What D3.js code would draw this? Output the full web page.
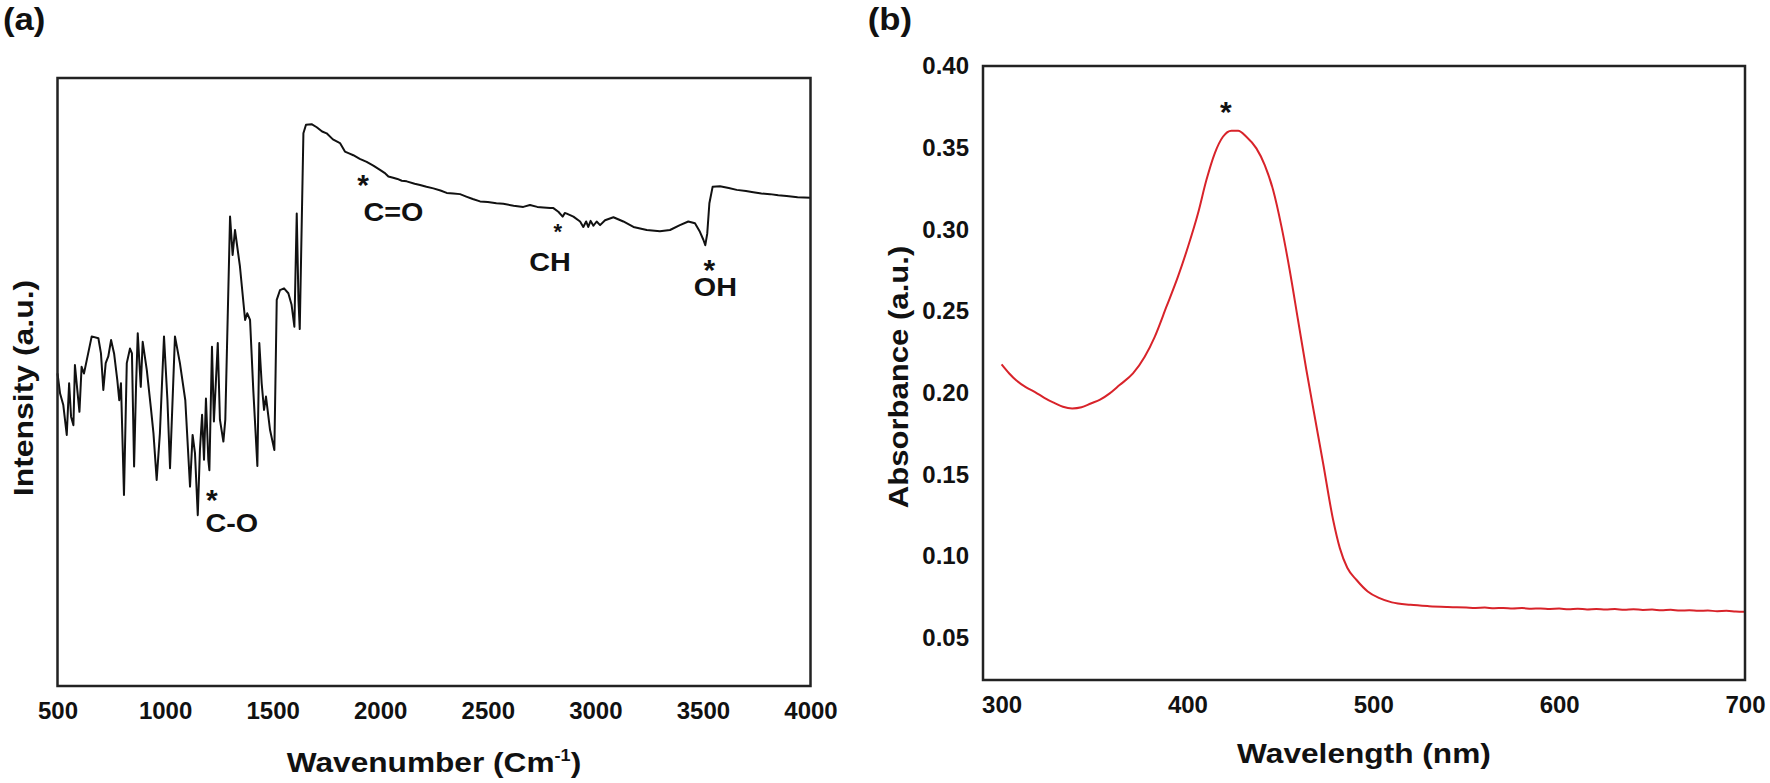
<!DOCTYPE html>
<html>
<head>
<meta charset="utf-8">
<script src="https://cdn.jsdelivr.net/npm/d3@7"></script>
<style>
  body { margin: 0; background: #fff; }
  svg text { font-family: "Liberation Sans", Arial, sans-serif; font-weight: bold; fill: #111; }
</style>
</head>
<body>
<svg id="chart" width="1770" height="783"></svg>
<script>
// (a) FTIR spectrum, intensity in arbitrary units (0-100 = frame)
const ftirWavenumber = [500, 512, 527, 543, 554, 563, 574, 581, 592, 602, 612, 623, 636, 659, 690, 702, 713, 724, 736, 749,
  763, 778, 787, 795, 809, 822, 837, 846, 856, 865, 873, 887, 896, 915, 935, 946, 961, 976, 995, 1011,
  1023, 1046, 1069, 1094, 1116, 1128, 1139, 1152, 1162, 1172, 1181, 1190, 1201, 1206, 1218, 1227, 1245, 1255, 1271, 1280,
  1302, 1314, 1325, 1348, 1372, 1382, 1395, 1410, 1429, 1438, 1449, 1460, 1469, 1488, 1508, 1519, 1534, 1553, 1573, 1588,
  1601, 1612, 1620, 1626, 1643, 1655, 1681, 1705, 1730, 1751, 1780, 1813, 1836, 1855, 1875, 1905, 1937, 1968, 1999, 2020,
  2038, 2060, 2080, 2100, 2123, 2160, 2185, 2215, 2247, 2280, 2309, 2340, 2371, 2400, 2430, 2464, 2500, 2540, 2572, 2620,
  2665, 2696, 2730, 2758, 2790, 2805, 2828, 2848, 2858, 2867, 2898, 2929, 2944, 2957, 2967, 2978, 2991, 3006, 3022, 3045,
  3084, 3130, 3177, 3239, 3300, 3347, 3393, 3432, 3463, 3486, 3502, 3511, 3520, 3530, 3545, 3579, 3620, 3657, 3700, 3734,
  3772, 3812, 3850, 3889, 3940, 4000];
const ftirIntensity = [51.4, 48.1, 46.2, 41.3, 49.8, 44.3, 42.9, 52.8, 48.7, 45.1, 52.5, 51.4, 53.6, 57.5, 57.2, 54.7, 48.7, 53.1, 54.2, 56.9,
  54.7, 50.3, 47.0, 49.8, 31.4, 53.1, 55.5, 54.7, 36.1, 49.2, 58.0, 49.2, 56.6, 52.0, 45.4, 41.6, 33.9, 41.6, 57.5, 47.0,
  35.8, 57.5, 53.1, 47.0, 32.8, 41.3, 38.3, 28.1, 38.8, 44.6, 37.2, 47.3, 37.2, 35.5, 55.8, 43.5, 56.4, 43.8, 40.2, 43.8,
  77.2, 70.9, 75.0, 69.0, 60.2, 61.3, 60.2, 48.7, 36.2, 56.4, 49.8, 45.4, 47.6, 42.1, 38.8, 63.5, 65.1, 65.4, 64.6, 62.7,
  59.1, 77.7, 63.5, 58.7, 90.9, 92.3, 92.4, 91.9, 91.2, 90.9, 89.9, 89.3, 87.9, 87.6, 87.3, 86.7, 86.2, 85.6, 84.9, 84.4,
  83.8, 83.6, 83.4, 83.1, 83.0, 82.6, 82.4, 82.1, 81.85, 81.5, 81.1, 81.0, 80.9, 80.5, 80.1, 79.7, 79.6, 79.4, 79.3, 79.0,
  78.8, 79.1, 78.8, 78.7, 78.6, 78.6, 78.0, 77.2, 77.8, 77.7, 77.2, 76.4, 75.5, 76.4, 75.5, 76.5, 75.7, 76.4, 75.8, 76.6,
  77.1, 76.4, 75.5, 75.0, 74.8, 75.0, 75.8, 76.4, 76.1, 74.7, 73.4, 72.5, 74.4, 79.4, 82.1, 82.2, 81.9, 81.6, 81.4, 81.2,
  81.0, 80.9, 80.7, 80.6, 80.4, 80.3];
const ftirTicks = [500, 1000, 1500, 2000, 2500, 3000, 3500, 4000];

// band markers: asterisk position and label position (wavenumber, intensity)
const bandLabels = ['C-O', 'C=O', 'CH', 'OH'];
const bandStar = [[1217, 31.7], [1921, 83.5], [2825, 75.5], [3530, 69.5]];
const bandText = [[1310, 25.4], [2061, 76.4], [2789, 68.3], [3558, 64.1]];
const bandStarSize = [30, 30, 22, 30];

// (b) UV-vis absorbance
const uvWavelength = [300, 304, 308, 313, 318, 323, 328, 333, 338, 343, 348, 353, 358, 363.5, 370.7, 377, 382.4, 388.7, 394.9, 400.3,
  405.7, 410.2, 414.7, 419.1, 423.7, 427.3, 431.7, 437.1, 441.6, 446.1, 450.6, 455, 459.5, 464, 468.5, 473, 478.4, 482, 486, 491,
  497, 503, 510, 520, 530, 540, 545, 550, 555, 560, 565, 570, 575, 580, 585, 590, 595, 600, 605, 610,
  615, 620, 625, 630, 635, 640, 645, 650, 655, 660, 665, 670, 675, 680, 685, 690, 695, 700];
const uvAbsorbance = [0.2174, 0.212, 0.2075, 0.2035, 0.2005, 0.197, 0.194, 0.1915, 0.1905, 0.1912, 0.1935, 0.1958, 0.1995, 0.2048, 0.2119, 0.2221, 0.2343, 0.2527, 0.2711, 0.2894,
  0.3099, 0.3302, 0.3466, 0.3567, 0.3604, 0.3604, 0.3567, 0.3496, 0.3394, 0.3241, 0.3017, 0.2752, 0.2446, 0.214, 0.1854, 0.1569, 0.1222, 0.105, 0.093, 0.0855,
  0.0785, 0.0745, 0.0718, 0.0703, 0.0695, 0.0690, 0.0688, 0.0686, 0.0684, 0.0686, 0.0682, 0.0684, 0.0681, 0.0683, 0.0679, 0.0681, 0.0678, 0.0680, 0.0676, 0.0679,
  0.0675, 0.0677, 0.0674, 0.0677, 0.0673, 0.0676, 0.0672, 0.0674, 0.0670, 0.0673, 0.0668, 0.0670, 0.0666, 0.0668, 0.0664, 0.0666, 0.0662, 0.0660];
const uvTicksX = [300, 400, 500, 600, 700];
const uvTicksY = [0.05, 0.10, 0.15, 0.20, 0.25, 0.30, 0.35, 0.40];
const uvPeakStar = [420.6, 0.3758];

const svg = d3.select('#chart');

// stretch text horizontally like the source figure
function widen(sel, k) {
  sel.each(function () {
    const w = this.getComputedTextLength();
    d3.select(this).attr('textLength', w * k).attr('lengthAdjust', 'spacingAndGlyphs');
  });
}

function frame(x, y) {
  svg.append('rect')
    .attr('x', x.range()[0]).attr('y', y.range()[1])
    .attr('width', x.range()[1] - x.range()[0])
    .attr('height', y.range()[0] - y.range()[1])
    .attr('fill', 'none').attr('stroke', '#222').attr('stroke-width', 2.5);
}

// ---------- panel (a) ----------
const xA = d3.scaleLinear().domain([500, 4000]).range([57.5, 810.5]);
const yA = d3.scaleLinear().domain([0, 100]).range([686, 78]);

svg.append('g')
  .attr('transform', 'translate(0,' + yA.range()[0] + ')')
  .call(d3.axisBottom(xA).tickValues(ftirTicks).tickSize(0).tickPadding(16).tickFormat(d3.format('d')))
  .call(g => g.select('.domain').remove())
  .selectAll('text').style('font-size', '24px');

svg.append('path')
  .datum(d3.range(ftirWavenumber.length))
  .attr('fill', 'none').attr('stroke', '#111').attr('stroke-width', 2).attr('stroke-linejoin', 'round')
  .attr('d', d3.line().x(i => xA(ftirWavenumber[i])).y(i => yA(ftirIntensity[i])));

frame(xA, yA);

bandLabels.forEach((lab, i) => {
  const s = bandStarSize[i];
  svg.append('text')
    .attr('x', xA(bandStar[i][0])).attr('y', yA(bandStar[i][1]) + 0.55 * s)
    .attr('text-anchor', 'middle').style('font-size', s + 'px').text('*');
  svg.append('text')
    .attr('x', xA(bandText[i][0])).attr('y', yA(bandText[i][1]))
    .attr('text-anchor', 'middle').style('font-size', '25px').text(lab)
    .call(widen, 1.15);
});

const titleA = svg.append('text')
  .attr('x', (xA.range()[0] + xA.range()[1]) / 2).attr('y', 772)
  .attr('text-anchor', 'middle').style('font-size', '28px');
titleA.append('tspan').text('Wavenumber (Cm');
titleA.append('tspan').attr('dy', -11).style('font-size', '16px').text('-1');
titleA.append('tspan').attr('dy', 11).text(')');
titleA.call(widen, 1.13);

svg.append('text')
  .attr('transform', 'translate(33,' + ((yA.range()[0] + yA.range()[1]) / 2 + 6) + ') rotate(-90)')
  .attr('text-anchor', 'middle').style('font-size', '28px').text('Intensity (a.u.)')
  .call(widen, 1.14);

svg.append('text').attr('x', 3).attr('y', 30).style('font-size', '31px').text('(a)').call(widen, 1.12);

// ---------- panel (b) ----------
const xB = d3.scaleLinear().domain([290, 700]).range([983, 1745]);
const yB = d3.scaleLinear().domain([0.0243, 0.40]).range([680, 66]);

svg.append('g')
  .attr('transform', 'translate(0,' + yB.range()[0] + ')')
  .call(d3.axisBottom(xB).tickValues(uvTicksX).tickSize(0).tickPadding(16).tickFormat(d3.format('d')))
  .call(g => g.select('.domain').remove())
  .selectAll('text').style('font-size', '24px');

svg.append('g')
  .attr('transform', 'translate(' + xB.range()[0] + ',0)')
  .call(d3.axisLeft(yB).tickValues(uvTicksY).tickSize(0).tickPadding(14).tickFormat(d3.format('.2f')))
  .call(g => g.select('.domain').remove())
  .selectAll('text').style('font-size', '24px');

svg.append('path')
  .datum(d3.range(uvWavelength.length))
  .attr('fill', 'none').attr('stroke', '#d8232a').attr('stroke-width', 2)
  .attr('d', d3.line().curve(d3.curveMonotoneX).x(i => xB(uvWavelength[i])).y(i => yB(uvAbsorbance[i])));

frame(xB, yB);

svg.append('text')
  .attr('x', xB(uvPeakStar[0])).attr('y', yB(uvPeakStar[1]) + 0.55 * 30)
  .attr('text-anchor', 'middle').style('font-size', '30px').text('*');

svg.append('text')
  .attr('x', (xB.range()[0] + xB.range()[1]) / 2).attr('y', 763)
  .attr('text-anchor', 'middle').style('font-size', '28px').text('Wavelength (nm)')
  .call(widen, 1.13);

svg.append('text')
  .attr('transform', 'translate(908,377) rotate(-90)')
  .attr('text-anchor', 'middle').style('font-size', '28px').text('Absorbance (a.u.)')
  .call(widen, 1.11);

svg.append('text').attr('x', 912).attr('y', 30).attr('text-anchor', 'end')
  .style('font-size', '31px').text('(b)').call(widen, 1.12);
</script>
</body>
</html>
